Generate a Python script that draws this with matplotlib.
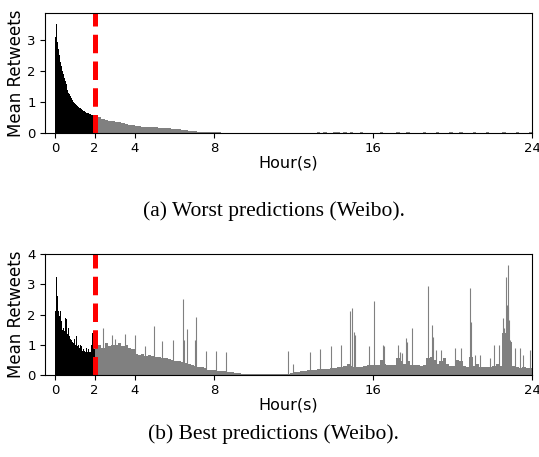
import numpy as np
import matplotlib
matplotlib.use('Agg')
import matplotlib.pyplot as plt

# hours of the day, first two hours in 2.5 min bins, rest in 10 min bins
early_edges = np.linspace(0, 2, 49)
late_edges = np.linspace(2, 24, 133)

# (a) worst predictions
worst_early = [3.10, 3.53, 3.20, 2.95, 2.72, 2.50, 2.30, 2.15, 2.08, 2.00, 1.90, 1.78,
               1.68, 1.58, 1.50, 1.40, 1.30, 1.25, 1.20, 1.14, 1.10, 1.06, 1.01, 0.97,
               0.95, 0.92, 0.89, 0.86, 0.84, 0.82, 0.80, 0.78, 0.76, 0.74, 0.72, 0.70,
               0.69, 0.68, 0.66, 0.65, 0.64, 0.62, 0.61, 0.60, 0.58, 0.57, 0.56, 0.55]
worst_late = [0.53, 0.50, 0.46, 0.43, 0.40, 0.38,
              0.36, 0.34, 0.31, 0.29, 0.27, 0.25,
              0.23, 0.21, 0.20, 0.19, 0.19, 0.18,
              0.18, 0.17, 0.17, 0.16, 0.15, 0.13,
              0.12, 0.12, 0.11, 0.09, 0.07, 0.07,
              0.05, 0.04, 0.04, 0.03, 0.03, 0.03,
              0.03, 0.02, 0.01, 0.01, 0.005, 0.0,
              0.0, 0.0, 0.0, 0.0, 0.0, 0.0,
              0.0, 0.0, 0.0, 0.0, 0.0, 0.0,
              0.0, 0.0, 0.01, 0.0, 0.01, 0.01,
              0.01, 0.01, 0.01, 0.01, 0.01, 0.01,
              0.01, 0.02, 0.01, 0.02, 0.01, 0.01,
              0.02, 0.02, 0.01, 0.02, 0.01, 0.02,
              0.01, 0.01, 0.02, 0.01, 0.01, 0.01,
              0.01, 0.01, 0.02, 0.01, 0.01, 0.01,
              0.01, 0.02, 0.01, 0.01, 0.02, 0.01,
              0.01, 0.01, 0.01, 0.02, 0.01, 0.01,
              0.01, 0.02, 0.01, 0.01, 0.01, 0.02,
              0.01, 0.01, 0.02, 0.01, 0.01, 0.01,
              0.02, 0.01, 0.01, 0.01, 0.02, 0.01,
              0.01, 0.01, 0.01, 0.02, 0.01, 0.01,
              0.01, 0.02, 0.01, 0.01, 0.01, 0.02]

# (b) best predictions
best_early = [2.10, 3.25, 3.40, 2.60, 2.10, 1.95, 2.10, 1.80, 1.75, 1.50, 1.55, 1.45,
              1.90, 1.85, 1.40, 1.35, 1.55, 1.30, 1.20, 1.15, 1.45, 1.10, 1.05, 1.20,
              1.00, 0.95, 1.30, 0.95, 1.00, 0.90, 1.00, 0.85, 0.95, 0.80, 0.85, 0.80,
              0.75, 0.75, 0.90, 0.75, 0.85, 0.75, 0.75, 0.80, 1.00, 1.40, 0.95, 0.85]
best_late = [0.95, 1.00, 0.90, 1.05, 0.95, 1.00,
             1.00, 1.05, 0.95, 1.00, 0.90, 0.85,
             0.70, 0.65, 0.68, 0.62, 0.66, 0.63,
             0.60, 0.58, 0.56, 0.55, 0.52, 0.50,
             0.47, 0.45, 0.42, 0.40, 0.35, 0.32,
             0.30, 0.28, 0.27, 0.22, 0.18, 0.17,
             0.15, 0.14, 0.14, 0.13, 0.10, 0.09,
             0.08, 0.07, 0.05, 0.04, 0.03, 0.03,
             0.02, 0.02, 0.02, 0.02, 0.02, 0.02,
             0.02, 0.02, 0.03, 0.04, 0.05, 0.08,
             0.10, 0.11, 0.12, 0.13, 0.15, 0.17,
             0.18, 0.19, 0.20, 0.20, 0.21, 0.22,
             0.24, 0.25, 0.26, 0.30, 0.38, 0.30,
             0.27, 0.28, 0.28, 0.30, 0.32, 0.33,
             0.33, 0.34, 0.50, 0.35, 0.33, 0.32,
             0.33, 0.55, 0.45, 0.35, 0.45, 0.33,
             0.32, 0.32, 0.31, 0.33, 0.55, 0.60,
             0.50, 0.38, 0.45, 0.55, 0.35, 0.30,
             0.30, 0.50, 0.45, 0.30, 0.28, 0.60,
             0.30, 0.35, 0.25, 0.25, 0.26, 0.25,
             0.30, 0.35, 0.30, 1.40, 1.60, 1.10,
             0.30, 0.26, 0.24, 0.25, 0.24, 0.22]

# narrow peaks in (b)
spike_hours = [2.43, 2.85, 3.00, 3.52, 4.02, 4.55, 4.99, 5.39, 5.95, 6.45, 6.50, 6.65,
               7.04, 7.07, 7.60, 8.10, 8.62, 11.73, 11.98, 12.81, 13.32, 13.87, 14.39,
               14.84, 14.92, 15.04, 15.09, 15.80, 16.06, 16.50, 16.55, 17.25, 17.33,
               17.43, 17.67, 17.72, 17.96, 18.76, 18.96, 19.01, 19.18, 19.43, 20.10,
               20.44, 20.85, 20.90, 21.10, 21.35, 21.85, 22.08, 22.33, 22.53, 22.60,
               22.66, 22.71, 22.76, 22.80, 22.85, 22.90, 23.12, 23.37, 23.54, 23.87]
spike_heights = [1.56, 1.32, 1.20, 1.35, 1.32, 0.95, 1.62, 1.13, 1.16, 2.51, 1.16, 1.52,
                 1.16, 1.93, 0.79, 0.79, 0.76, 0.79, 0.36, 0.75, 0.86, 0.96, 0.99,
                 2.13, 2.20, 1.42, 1.32, 0.96, 2.45, 0.99, 0.95, 0.99, 0.77,
                 0.72, 1.21, 1.10, 1.54, 2.94, 1.65, 1.27, 0.83, 0.83, 0.90,
                 0.90, 2.87, 1.76, 0.66, 0.66, 0.55, 0.99, 0.99, 1.87, 1.54,
                 3.25, 2.31, 3.64, 2.26, 1.82, 1.16, 0.88, 0.90, 0.66, 0.83]

xticks = [0, 2, 4, 8, 16, 24]


def panel(ax, early, late, ymax, yticks):
    ax.stairs(early, early_edges, fill=True, color='black', linewidth=0)
    ax.stairs(late, late_edges, fill=True, color='gray', linewidth=0)
    ax.axvline(2, color='red', linestyle=(0, (3.7, 1.65)), linewidth=3.6)
    ax.set_xlim(-0.5, 24)
    ax.set_ylim(0, ymax)
    ax.set_xticks(xticks)
    ax.set_yticks(yticks)
    ax.tick_params(labelsize=9.5, pad=3)
    ax.set_xlabel('Hour(s)', fontsize=11.5, labelpad=0)
    ax.set_ylabel('Mean Retweets', fontsize=12, labelpad=2)


fig = plt.figure(figsize=(5.39, 4.57), dpi=100)
ax1 = fig.add_axes([0.0835, 0.709, 0.904, 0.2626])
ax2 = fig.add_axes([0.0835, 0.1794, 0.904, 0.2648])

panel(ax1, worst_early, worst_late, 3.87, [0, 1, 2, 3])
ax2.vlines(spike_hours, 0, spike_heights, colors='gray', linewidth=0.8)
panel(ax2, best_early, best_late, 4, [0, 1, 2, 3, 4])

fig.text(0.508, 0.538, '(a) Worst predictions (Weibo).', ha='center', va='center',
         family='Liberation Serif', fontsize=15.5)
fig.text(0.508, 0.05, '(b) Best predictions (Weibo).', ha='center', va='center',
         family='Liberation Serif', fontsize=15.5)

fig.savefig('out.png', dpi=100)
